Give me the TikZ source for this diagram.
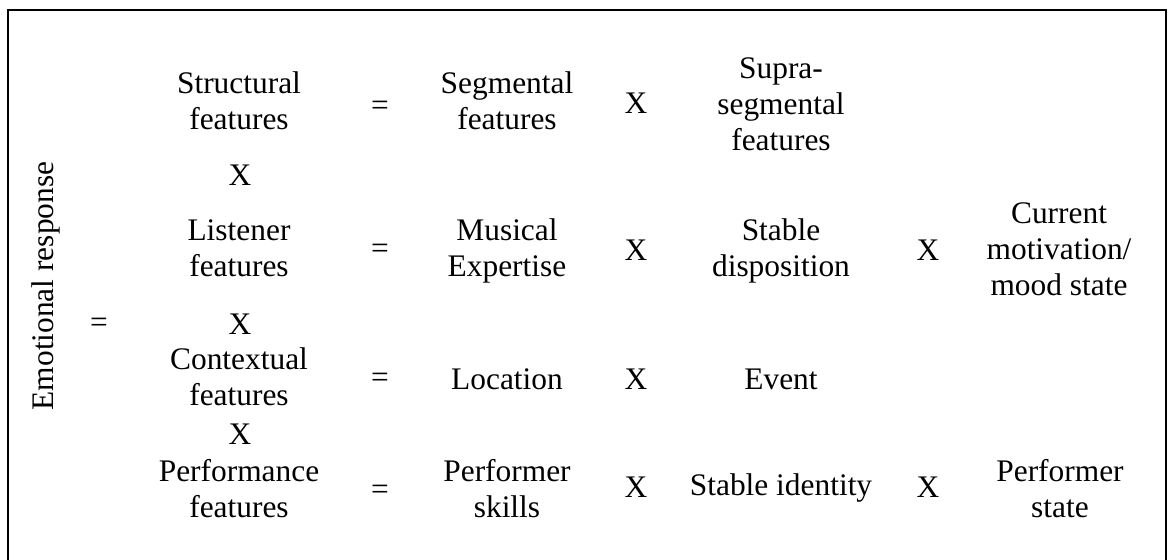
\documentclass[tikz,border=0pt]{standalone}
\usepackage{fontspec}
\setmainfont{Liberation Serif}
% centred stack of lines whose reference point is the first baseline
\newcommand{\linestack}[1]{\begin{tabular}[t]{@{}c@{}}#1\end{tabular}}
\begin{document}
\begin{tikzpicture}[x=0.5pt,y=-0.5pt,
  term/.style={inner sep=0pt,anchor=base,font=\fontsize{15.7}{18}\selectfont},
  op/.style={term}]
\useasboundingbox (0,0) rectangle (1171,559);
% open frame around the equations
\draw[line width=1.1pt] (8,560) -- (8,10) -- (1166,10) -- (1166,560);

% left-hand side
\node[term,anchor=center,rotate=90] (emo) at (46,286) {Emotional response};
\node[op] (eq0) at (99,332) {=};

% structural features
\node[term] (struct) at (239,93) {\linestack{Structural\\features}};
\node[op] (eq1) at (380,115) {=};
\node[term] (seg) at (507,93) {\linestack{Segmental\\features}};
\node[op] (x11) at (636,113) {X};
\node[term] (supra) at (781,78) {\linestack{Supra-\\segmental\\features}};

\node[op] (x1) at (240,185) {X};

% listener features
\node[term] (listen) at (239,240) {\linestack{Listener\\features}};
\node[op] (eq2) at (380,258) {=};
\node[term] (music) at (507,240) {\linestack{Musical\\Expertise}};
\node[op] (x21) at (636,260) {X};
\node[term] (disp) at (781,240) {\linestack{Stable\\disposition}};
\node[op] (x22) at (928,260) {X};
\node[term] (mood) at (1059,223) {\linestack{Current\\motivation/\\mood state}};

\node[op] (x2) at (240,334) {X};

% contextual features
\node[term] (context) at (239,369) {\linestack{Contextual\\features}};
\node[op] (eq3) at (380,387) {=};
\node[term] (loc) at (507,389) {Location};
\node[op] (x31) at (636,389) {X};
\node[term] (event) at (781,389) {Event};

\node[op] (x3) at (240,444) {X};

% performance features
\node[term] (perf) at (239,481) {\linestack{Performance\\features}};
\node[op] (eq4) at (380,499) {=};
\node[term] (skills) at (507,481) {\linestack{Performer\\skills}};
\node[op] (x41) at (636,497) {X};
\node[term] (ident) at (781,495) {Stable identity};
\node[op] (x42) at (928,497) {X};
\node[term] (pstate) at (1060,481) {\linestack{Performer\\state}};
\end{tikzpicture}
\end{document}
